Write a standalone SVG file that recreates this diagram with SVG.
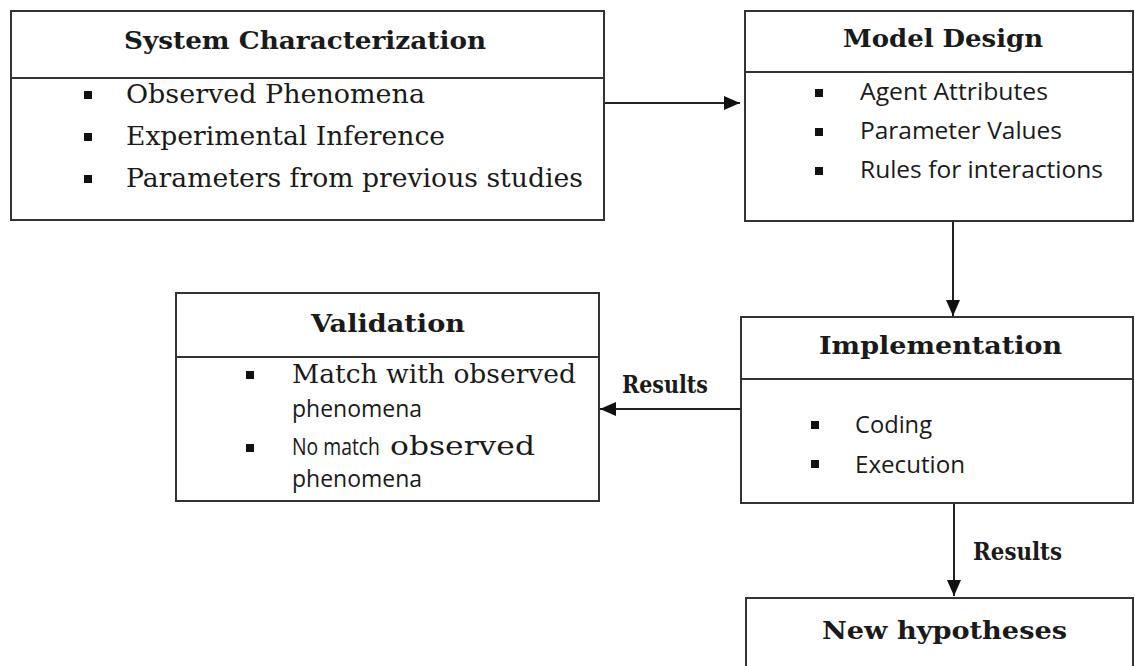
<svg xmlns="http://www.w3.org/2000/svg" width="1135" height="666" viewBox="0 0 1135 666">
<style>
.box{fill:#fff;stroke:#333;stroke-width:2}
.div{stroke:#333;stroke-width:2}
.title{font-family:"DejaVu Serif","Liberation Serif",serif;font-weight:bold;font-size:24px;fill:#1a1a1a}
.serif{font-family:"DejaVu Serif","Liberation Serif",serif;font-size:26px;fill:#1a1a1a}
.sans{font-family:"Open Sans","Liberation Sans",sans-serif;font-size:24px;fill:#1a1a1a}
.bul{fill:#111}
.conn{stroke:#222;stroke-width:2;fill:none;marker-end:url(#ah)}
</style>
<defs>
<marker id="ah" viewBox="0 0 16 14" refX="16" refY="7" markerWidth="16" markerHeight="14" markerUnits="userSpaceOnUse" orient="auto">
<path d="M0,0 L16,7 L0,14 z" fill="#111"/>
</marker>
</defs>
<rect width="1135" height="666" fill="#fff"/>

<g id="connectors">
<line class="conn" x1="604" y1="103" x2="740" y2="103"/>
<line class="conn" x1="953" y1="221" x2="953" y2="316"/>
<line class="conn" x1="741" y1="409" x2="600" y2="409"/>
<line class="conn" x1="954" y1="503" x2="954" y2="596"/>
<text class="title" x="622" y="393" textLength="86" lengthAdjust="spacingAndGlyphs">Results</text>
<text class="title" x="973" y="560" textLength="89" lengthAdjust="spacingAndGlyphs">Results</text>
</g>

<g id="system-characterization">
<rect class="box" x="11" y="11" width="593" height="209"/>
<line class="div" x1="11" y1="78" x2="604" y2="78"/>
<text class="title" x="124" y="49" textLength="362" lengthAdjust="spacingAndGlyphs">System Characterization</text>
<rect class="bul" x="84" y="91" width="8" height="8"/>
<rect class="bul" x="84" y="133" width="8" height="8"/>
<rect class="bul" x="84" y="175" width="8" height="8"/>
<text class="serif" x="126" y="103" textLength="299" lengthAdjust="spacingAndGlyphs">Observed Phenomena</text>
<text class="serif" x="126" y="145" textLength="319" lengthAdjust="spacingAndGlyphs">Experimental Inference</text>
<text class="serif" x="126" y="187" textLength="457" lengthAdjust="spacingAndGlyphs">Parameters from previous studies</text>
</g>

<g id="model-design">
<rect class="box" x="745" y="11" width="388" height="210"/>
<line class="div" x1="745" y1="72" x2="1133" y2="72"/>
<text class="title" x="843" y="47" textLength="200" lengthAdjust="spacingAndGlyphs">Model Design</text>
<rect class="bul" x="815" y="89" width="8" height="8"/>
<rect class="bul" x="815" y="128" width="8" height="8"/>
<rect class="bul" x="815" y="167" width="8" height="8"/>
<text class="sans" x="860" y="100" textLength="188" lengthAdjust="spacingAndGlyphs">Agent Attributes</text>
<text class="sans" x="860" y="139" textLength="202" lengthAdjust="spacingAndGlyphs">Parameter Values</text>
<text class="sans" x="860" y="178" textLength="243" lengthAdjust="spacingAndGlyphs">Rules for interactions</text>
</g>

<g id="implementation">
<rect class="box" x="741" y="317" width="392" height="186"/>
<line class="div" x1="741" y1="379" x2="1133" y2="379"/>
<text class="title" x="819" y="354" textLength="243" lengthAdjust="spacingAndGlyphs">Implementation</text>
<rect class="bul" x="811" y="421" width="8" height="8"/>
<rect class="bul" x="811" y="460" width="8" height="8"/>
<text class="sans" x="855" y="433" textLength="77" lengthAdjust="spacingAndGlyphs">Coding</text>
<text class="sans" x="855" y="473" textLength="110" lengthAdjust="spacingAndGlyphs">Execution</text>
</g>

<g id="validation">
<rect class="box" x="176" y="293" width="423" height="208"/>
<line class="div" x1="176" y1="357" x2="599" y2="357"/>
<text class="title" x="311" y="332" textLength="154" lengthAdjust="spacingAndGlyphs">Validation</text>
<rect class="bul" x="246" y="371" width="8" height="8"/>
<rect class="bul" x="246" y="444" width="8" height="8"/>
<text class="serif" x="292" y="383" textLength="284" lengthAdjust="spacingAndGlyphs">Match with observed</text>
<text class="sans" x="292" y="417" textLength="130" lengthAdjust="spacingAndGlyphs">phenomena</text>
<text class="sans" x="292" y="455" textLength="88" lengthAdjust="spacingAndGlyphs">No match</text>
<text class="serif" x="390" y="455" textLength="145" lengthAdjust="spacingAndGlyphs">observed</text>
<text class="sans" x="292" y="487" textLength="130" lengthAdjust="spacingAndGlyphs">phenomena</text>
</g>

<g id="new-hypotheses">
<rect class="box" x="746" y="598" width="387" height="100"/>
<text class="title" x="822" y="639" textLength="245" lengthAdjust="spacingAndGlyphs">New hypotheses</text>
</g>
</svg>
